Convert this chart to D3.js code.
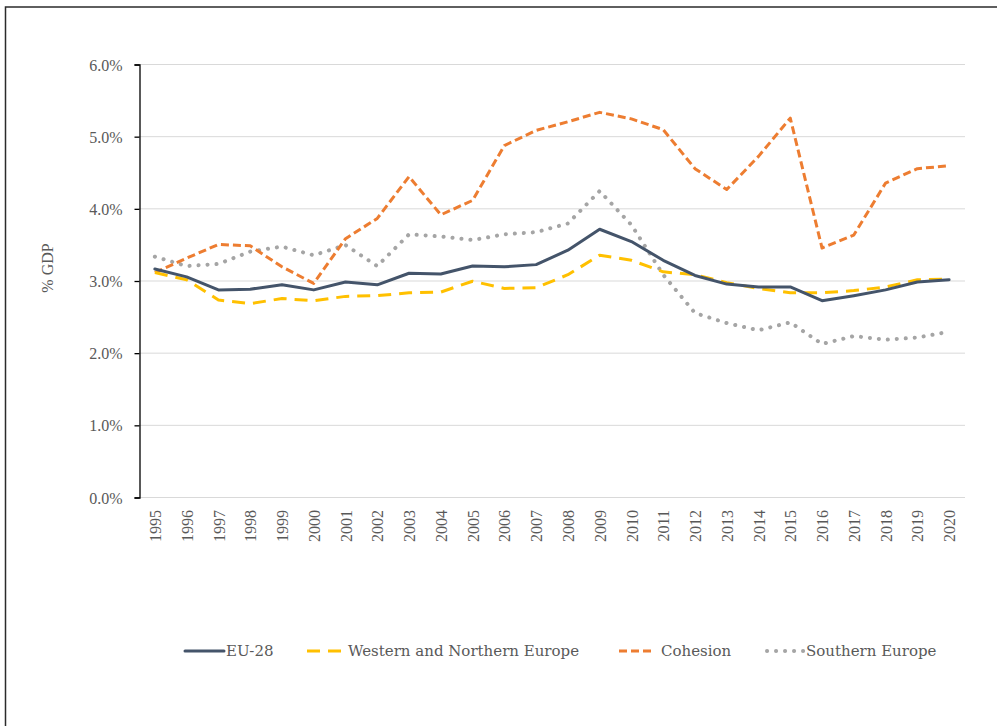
<!DOCTYPE html>
<html>
<head>
<meta charset="utf-8">
<script src="https://cdn.jsdelivr.net/npm/d3@7"></script>
<style>
  html, body { margin: 0; padding: 0; background: #fff; }
  svg { display: block; }
  .tick-label { font-family: "Liberation Serif", serif; font-size: 16px; fill: #595959; }
  .legend-text { font-family: "DejaVu Serif", serif; font-size: 15px; fill: #595959; }
</style>
</head>
<body>
<svg id="svg" width="997" height="726"></svg>
<script>
const WIDTH = 997;
const HEIGHT = 726;
const PLOT = {left: 139, right: 965, top: 64, bottom: 497};

// Data (% of GDP)
const years = [1995, 1996, 1997, 1998, 1999, 2000, 2001, 2002, 2003, 2004, 2005, 2006, 2007,
  2008, 2009, 2010, 2011, 2012, 2013, 2014, 2015, 2016, 2017, 2018, 2019, 2020];
const eu28 = [3.16, 3.05, 2.87, 2.88, 2.94, 2.87, 2.98, 2.94, 3.10, 3.09, 3.20, 3.19, 3.22,
  3.42, 3.71, 3.54, 3.28, 3.07, 2.95, 2.91, 2.91, 2.72, 2.79, 2.87, 2.98, 3.01];
const westernNorthern = [3.11, 3.01, 2.73, 2.68, 2.75, 2.72, 2.78, 2.79, 2.83, 2.84, 2.99, 2.89, 2.90,
  3.08, 3.35, 3.28, 3.12, 3.08, 2.97, 2.89, 2.83, 2.83, 2.86, 2.91, 3.01, 3.02];
const cohesion = [3.11, 3.31, 3.50, 3.48, 3.19, 2.96, 3.58, 3.86, 4.44, 3.91, 4.11, 4.87, 5.08,
  5.20, 5.33, 5.24, 5.09, 4.55, 4.26, 4.72, 5.25, 3.45, 3.63, 4.35, 4.55, 4.59];
const southern = [3.33, 3.20, 3.23, 3.40, 3.47, 3.35, 3.49, 3.20, 3.64, 3.61, 3.56, 3.64, 3.67,
  3.79, 4.24, 3.77, 3.08, 2.55, 2.41, 2.31, 2.42, 2.12, 2.23, 2.18, 2.21, 2.29];
const yTicks = [0, 1, 2, 3, 4, 5, 6];
const seriesNames = ["EU-28", "Western and Northern Europe", "Cohesion", "Southern Europe"];

const STYLES = [
  {color: "#44546A", width: 3, dash: null, cap: "round"},
  {color: "#FFC000", width: 3, dash: "13,8", cap: "butt"},
  {color: "#ED7D31", width: 3, dash: "8,4", cap: "butt"},
  {color: "#A5A5A5", width: 4, dash: "0.1,8.9", cap: "round"},
];

const svg = d3.select("#svg");

const x = d3.scalePoint()
  .domain(years)
  .range([PLOT.left, PLOT.right])
  .padding(0.5);
const y = d3.scaleLinear()
  .domain([0, 6])
  .range([PLOT.bottom, PLOT.top]);

// Frame round the picture
svg.append("path")
  .attr("d", `M5.5,${HEIGHT} V7 H${WIDTH}`)
  .attr("fill", "none")
  .attr("stroke", "#2b2b2b")
  .attr("stroke-width", 1.5);

// Gridlines (0% line doubles as the x baseline)
svg.append("g")
  .selectAll("line")
  .data(yTicks)
  .enter()
  .append("line")
  .attr("x1", PLOT.left)
  .attr("x2", PLOT.right)
  .attr("y1", (d) => y(d) + 0.5)
  .attr("y2", (d) => y(d) + 0.5)
  .attr("stroke", "#D9D9D9")
  .attr("stroke-width", 1);

// Y axis
const yAxis = d3.axisLeft(y)
  .tickValues(yTicks)
  .tickSize(5)
  .tickFormat((d) => d.toFixed(1) + "%");
const yAxisGroup = svg.append("g")
  .attr("transform", `translate(${PLOT.left + 0.5}, 0.5)`)
  .call(yAxis);
yAxisGroup.select(".domain").attr("stroke", "#000").attr("stroke-width", 1.3);
yAxisGroup.selectAll(".tick line").attr("stroke", "#000").attr("stroke-width", 1.3);
yAxisGroup.selectAll(".tick text")
  .attr("class", "tick-label")
  .attr("x", -17)
  .attr("dy", "0.35em")
  .style("font-family", null)
  .style("font-size", null);
yAxisGroup.attr("font-family", null).attr("font-size", null);

// X axis labels (no ticks)
const xAxis = d3.axisBottom(x).tickSize(0);
const xAxisGroup = svg.append("g")
  .attr("transform", `translate(0, ${PLOT.bottom})`)
  .call(xAxis);
xAxisGroup.select(".domain").remove();
xAxisGroup.attr("font-family", null).attr("font-size", null);
xAxisGroup.selectAll(".tick text")
  .attr("class", "tick-label")
  .attr("transform", "rotate(-90)")
  .attr("x", -13)
  .attr("y", 0)
  .attr("dy", "0.35em")
  .attr("text-anchor", "end");

// Y axis title
svg.append("text")
  .attr("class", "tick-label")
  .attr("transform", "translate(47, 268) rotate(-90)")
  .attr("text-anchor", "middle")
  .attr("dy", "0.35em")
  .text("% GDP");

// Series lines
const line = d3.line()
  .x((d, i) => x(years[i]))
  .y((d) => y(d));

const allSeries = [eu28, westernNorthern, cohesion, southern];
// draw the dotted series first so solid lines sit on top like in the source
const drawOrder = [3, 2, 1, 0];
svg.append("g")
  .selectAll("path")
  .data(drawOrder)
  .enter()
  .append("path")
  .attr("d", (k) => line(allSeries[k]))
  .attr("fill", "none")
  .attr("stroke", (k) => STYLES[k].color)
  .attr("stroke-width", (k) => STYLES[k].width)
  .attr("stroke-dasharray", (k) => STYLES[k].dash)
  .attr("stroke-linecap", (k) => STYLES[k].cap)
  .attr("stroke-linejoin", "round");

// Legend
const LEGEND_Y = 651;
const legendItems = [
  {x1: 185, x2: 224, tx: 226},
  {x1: 307, x2: 342, tx: 348},
  {x1: 619, x2: 652, tx: 661},
  {x1: 767, x2: 804, tx: 806},
];
const legend = svg.append("g")
  .selectAll("g")
  .data(seriesNames)
  .enter()
  .append("g");
legend.append("line")
  .attr("x1", (d, i) => legendItems[i].x1)
  .attr("x2", (d, i) => legendItems[i].x2)
  .attr("y1", LEGEND_Y)
  .attr("y2", LEGEND_Y)
  .attr("stroke", (d, i) => STYLES[i].color)
  .attr("stroke-width", (d, i) => STYLES[i].width)
  .attr("stroke-dasharray", (d, i) => STYLES[i].dash)
  .attr("stroke-linecap", (d, i) => STYLES[i].cap);
legend.append("text")
  .attr("class", "legend-text")
  .attr("x", (d, i) => legendItems[i].tx)
  .attr("y", LEGEND_Y)
  .attr("dy", "0.35em")
  .text((d) => d);
</script>
</body>
</html>
